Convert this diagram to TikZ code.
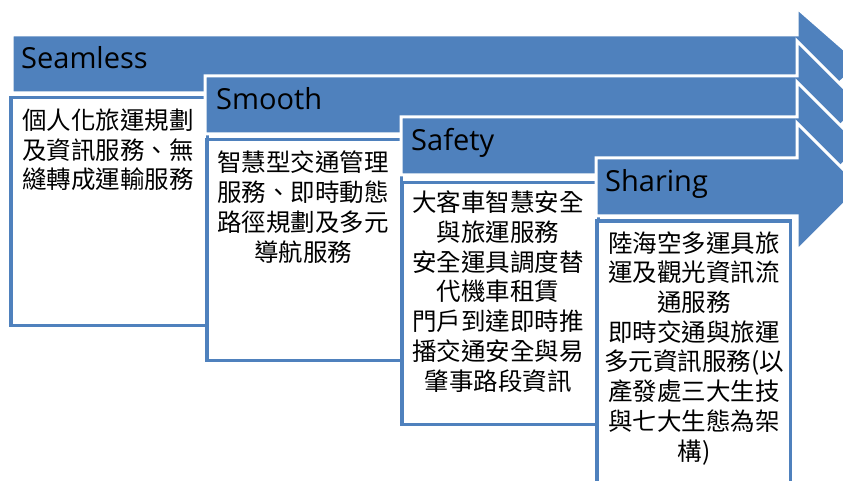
\documentclass[tikz,border=0pt]{standalone}
\usepackage{fontspec}
\setmainfont{Open Sans}
\newfontfamily\cjk{Noto Sans CJK TC}
\definecolor{ofblue}{HTML}{4F81BD}
\tikzset{
  arrowshape/.style={fill=ofblue, draw=white, line width=3pt, line join=miter},
  boxshape/.style={fill=white, draw=ofblue, line width=3.5pt},
  titletext/.style={anchor=base west, inner sep=0pt, text=black, font=\fontsize{29}{34}\selectfont},
  bodytext/.style={anchor=base, inner sep=0pt, align=center, text=black, font=\cjk\fontsize{24.5}{29.7}\selectfont}
}
\begin{document}
\begin{tikzpicture}[x=1pt,y=-1pt]
\useasboundingbox (0,0) rectangle (843,481);
\clip (0,0) rectangle (843,481);
\fill[white] (0,0) rectangle (843,481);
% arrow 1
\draw[arrowshape] (12,35) -- (797,35) -- (797,8) -- (861,64) -- (797,120) -- (797,93) -- (12,93) -- cycle;
\node[titletext] (t1) at (21,69) {Seamless};
\draw[boxshape] (10.75,97.75) rectangle (207.25,325.25);
\node[bodytext] (b1) at (108,189) {個人化旅運規劃\\及資訊服務、無\\縫轉成運輸服務};
% arrow 2
\draw[arrowshape] (205,76) -- (797,76) -- (797,41) -- (861,105) -- (797,169) -- (797,134) -- (205,134) -- cycle;
\node[titletext] (t2) at (216,110) {Smooth};
\draw[boxshape] (206.75,139.75) rectangle (401.25,360.25);
\node[bodytext] (b2) at (303,261) {智慧型交通管理\\服務、即時動態\\路徑規劃及多元\\導航服務};
% arrow 3
\draw[arrowshape] (401,117) -- (797,117) -- (797,82) -- (861,146) -- (797,210) -- (797,175) -- (401,175) -- cycle;
\node[titletext] (t3) at (411,151) {Safety};
\draw[boxshape] (401.75,182.75) rectangle (598.25,424.25);
\node[bodytext] (b3) at (498,390) {大客車智慧安全\\與旅運服務\\安全運具調度替\\代機車租賃\\門戶到達即時推\\播交通安全與易\\肇事路段資訊};
% arrow 4
\draw[arrowshape] (596,158) -- (797,158) -- (797,123) -- (861,187) -- (797,251) -- (797,216) -- (596,216) -- cycle;
\node[titletext] (t4) at (605,192) {Sharing};
\draw[boxshape] (596.75,220.75) rectangle (790.25,520);
\node[bodytext] (b4) at (694,460) {陸海空多運具旅\\運及觀光資訊流\\通服務\\即時交通與旅運\\多元資訊服務(以\\產發處三大生技\\與七大生態為架\\構)};
\end{tikzpicture}
\end{document}
